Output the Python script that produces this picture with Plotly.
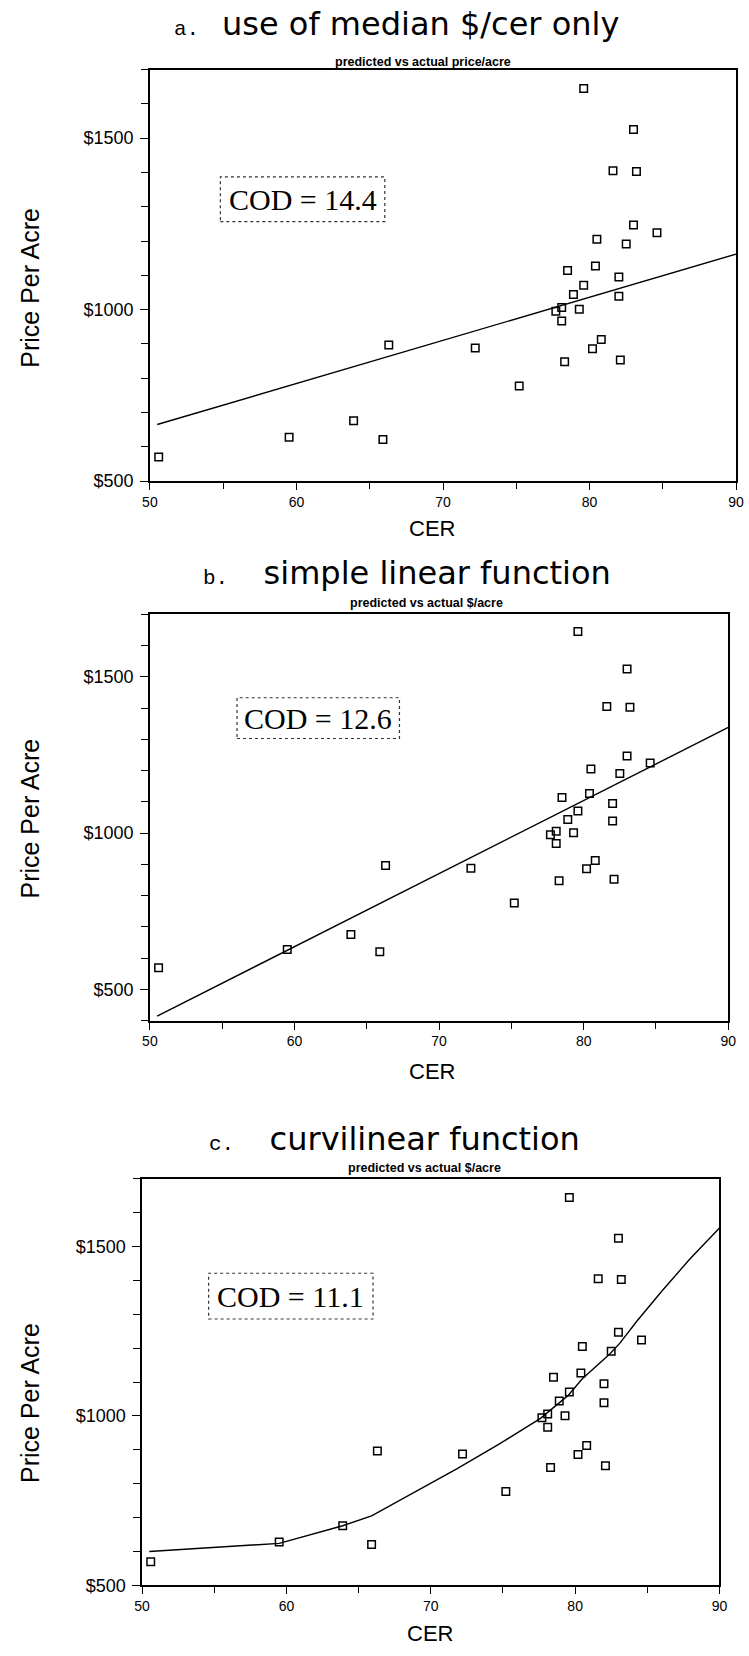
import plotly.graph_objects as go

W, H = 749, 1656

# ---------------- data ----------------
cer = [79.6, 83.0, 81.6, 83.2, 83.0, 84.6, 80.5, 82.5, 80.4, 78.5,
       82.0, 79.6, 78.9, 82.0, 77.7, 78.1, 79.3, 78.1, 80.8, 80.2,
       78.3, 82.1, 66.3, 72.2, 75.2, 63.9, 59.5, 65.9, 50.6]
price = [1645, 1525, 1405, 1403, 1247, 1224, 1205, 1191, 1127, 1114,
         1095, 1071, 1044, 1039, 995, 1006, 1001, 967, 913, 886,
         848, 853, 897, 888, 777, 676, 628, 621, 570]

line_a_x = [50.5, 90.0]
line_a_y = [665, 1162]
line_b_x = [50.5, 90.0]
line_b_y = [415, 1338]
curve_c_x = [50.5, 59.5, 63.9, 65.9, 71.8, 74.7, 77.6, 79.5, 80.5, 82.4, 83.1, 84.3, 86.0, 87.9, 90.0]
curve_c_y = [600, 624, 676, 705, 844, 916, 993, 1060, 1110, 1183, 1215, 1281, 1368, 1461, 1555]

panel_letters = ["a.", "b.", "c."]
panel_titles = ["use of median $/cer only", "simple linear function", "curvilinear function"]
subtitles = ["predicted vs actual price/acre", "predicted vs actual $/acre", "predicted vs actual $/acre"]
cod_labels = ["COD = 14.4", "COD = 12.6", "COD = 11.1"]
y_ranges = [[500, 1700], [400, 1700], [500, 1700]]
x_range = [50, 90]
x_tickvals = [50, 60, 70, 80, 90]
x_ticktext = ["50", "60", "70", "80", "90"]
y_tickvals = [500, 1000, 1500]
y_ticktext = ["$500", "$1000", "$1500"]
x_title = "CER"
y_title = "Price Per Acre"

lines_x = [line_a_x, line_b_x, curve_c_x]
lines_y = [line_a_y, line_b_y, curve_c_y]

# ---------------- layout geometry (pixels) ----------------
frames = [  # left, right, top, bottom
    (145, 744, 70, 484),
    (145, 736, 618, 1027),
    (137, 727, 1186, 1595),
]
title_pos = [(397, 24), (408, 576), (395, 1146)]
title_gap = [1, 2, 2]
sub_pos = [(424, 62), (428, 607), (426, 1175)]
cer_pos = [(433, 532), (433, 1078), (431, 1643)]
ppa_pos = [(23, 290), (23, 824), (23, 1412)]
cod_boxes = [(217, 385, 178, 223), (234, 400, 702, 743), (205, 373, 1281, 1327)]


def px(x):
    return x / W


def py(y):
    return 1 - y / H


fig = go.Figure()
layout = dict(
    width=W, height=H,
    margin=dict(l=0, r=0, t=0, b=0),
    paper_bgcolor="white", plot_bgcolor="white",
    showlegend=False,
    font=dict(family="Liberation Sans, Arial, sans-serif", color="black"),
)
annotations = []
shapes = []

for i in range(3):
    xa = "x" if i == 0 else f"x{i+1}"
    ya = "y" if i == 0 else f"y{i+1}"
    l, r, t, b = frames[i]
    xkey = "xaxis" if i == 0 else f"xaxis{i+1}"
    ykey = "yaxis" if i == 0 else f"yaxis{i+1}"
    layout[xkey] = dict(
        domain=[px(l), px(r)], anchor=ya, range=x_range,
        showgrid=False, zeroline=False, showline=True, linecolor="black",
        linewidth=1.5, mirror=True, ticks="outside", ticklen=7, tickwidth=1.2,
        tickcolor="black", tickvals=x_tickvals, ticktext=x_ticktext,
        tickfont=dict(size=14, family="Liberation Sans, Arial, sans-serif"),
        minor=dict(dtick=5, tick0=0, ticks="outside", ticklen=6, tickcolor="black", tickwidth=1.2),
    )
    layout[ykey] = dict(
        domain=[py(b), py(t)], anchor=xa, range=y_ranges[i],
        showgrid=False, zeroline=False, showline=True, linecolor="black",
        linewidth=1.5, mirror=True, ticks="outside", ticklen=8, tickwidth=1.2,
        tickcolor="black", tickvals=y_tickvals, ticktext=y_ticktext,
        tickfont=dict(size=18, family="Liberation Sans, Arial, sans-serif"),
        minor=dict(dtick=100, tick0=0, ticks="outside", ticklen=7, tickcolor="black", tickwidth=1.2),
        ticklabelstandoff=3,
    )

    fig.add_trace(go.Scatter(
        x=lines_x[i], y=lines_y[i], mode="lines",
        line=dict(color="black", width=1.4), xaxis=xa, yaxis=ya, hoverinfo="skip",
    ))
    fig.add_trace(go.Scatter(
        x=cer, y=price, mode="markers",
        marker=dict(symbol="square-open", size=7.5, color="black", line=dict(width=1.5, color="black")),
        xaxis=xa, yaxis=ya,
    ))

    # title
    tx, ty = title_pos[i]
    gap = "&nbsp;" * title_gap[i]
    annotations.append(dict(
        x=px(tx), y=py(ty), xref="paper", yref="paper", xanchor="center", yanchor="middle",
        showarrow=False,
        text=f"<span style='font-family:Liberation Mono, Courier New, monospace;font-size:21px'>{panel_letters[i]}{gap}</span>"
             f" {panel_titles[i]}",
        font=dict(size=32, family="DejaVu Sans, Liberation Sans, sans-serif", color="black"),
    ))
    sx, sy = sub_pos[i]
    annotations.append(dict(
        x=px(sx), y=py(sy), xref="paper", yref="paper", xanchor="center", yanchor="middle",
        showarrow=False, text=f"<b>{subtitles[i]}</b>",
        font=dict(size=12.5, family="Liberation Sans, Arial, sans-serif", color="black"),
    ))
    cx, cy = cer_pos[i]
    annotations.append(dict(
        x=px(cx), y=py(cy), xref="paper", yref="paper", xanchor="center", yanchor="middle",
        showarrow=False, text=x_title,
        font=dict(size=22, family="Liberation Sans, Arial, sans-serif", color="black"),
    ))
    ax_, ay_ = ppa_pos[i]
    annotations.append(dict(
        x=px(ax_), y=py(ay_), xref="paper", yref="paper", xanchor="center", yanchor="middle",
        showarrow=False, text=y_title, textangle=-90,
        font=dict(size=25, family="Liberation Sans, Arial, sans-serif", color="black"),
    ))
    bl, br, bt, bb = cod_boxes[i]
    shapes.append(dict(
        type="rect", xref="paper", yref="paper",
        x0=px(bl), x1=px(br), y0=py(bb), y1=py(bt),
        line=dict(color="#333333", width=1.2, dash="dot"), fillcolor="rgba(0,0,0,0)",
    ))
    annotations.append(dict(
        x=px((bl + br) / 2), y=py((bt + bb) / 2), xref="paper", yref="paper",
        xanchor="center", yanchor="middle", showarrow=False, text=cod_labels[i],
        font=dict(size=30, family="Liberation Serif, Times New Roman, serif", color="black"),
    ))

layout["annotations"] = annotations
layout["shapes"] = shapes
fig.update_layout(**layout)
fig.write_html("out.html")
